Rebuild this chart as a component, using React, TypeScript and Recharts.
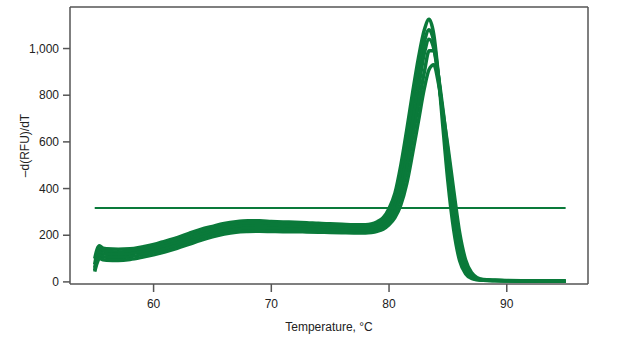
import * as React from "react";
import {
  LineChart,
  Line,
  XAxis,
  YAxis,
  ReferenceLine,
} from "recharts";

// Temperature points (°C) the melt curves were read at
const temps = [
  55, 55.2, 55.4, 55.7, 56, 57, 58, 59, 60, 61, 62, 63, 64, 65, 66, 67, 68, 69,
  70, 71, 72, 73, 74, 75, 76, 77, 78, 78.5, 79, 79.5, 80, 80.5, 81, 81.5, 82,
  82.5, 83, 83.4, 83.8, 84.2, 84.6, 85, 85.5, 86, 86.5, 87, 87.5, 88, 89, 90,
  92, 95,
];

// Five representative wells, upper edge of the bundle to lower edge
const well1 = [
  100, 140, 155, 145, 142, 140, 142, 150, 160, 175, 190, 208, 225, 238, 250,
  258, 262, 262, 259, 257, 256, 254, 251, 249, 247, 245, 245, 248, 258, 275,
  315, 380, 500, 650, 810, 960, 1080, 1125, 1060, 880, 650, 430, 220, 90, 35,
  15, 9, 7, 6, 6, 5, 4,
];
const well2 = [
  75, 125, 140, 132, 130, 128, 131, 139, 150, 164, 178, 196, 213, 227, 239, 247,
  251, 251, 249, 247, 246, 244, 242, 240, 238, 236, 236, 239, 247, 262, 295,
  350, 450, 590, 750, 900, 1030, 1080, 1030, 880, 700, 500, 290, 125, 50, 20,
  10, 7, 6, 5, 5, 4,
];
const well3 = [
  60, 110, 128, 120, 118, 116, 120, 128, 139, 152, 167, 184, 201, 216, 228, 236,
  240, 241, 239, 238, 236, 235, 233, 231, 229, 227, 227, 230, 237, 250, 278,
  325, 410, 530, 680, 830, 980, 1040, 1000, 870, 700, 520, 320, 150, 60, 25, 12,
  8, 6, 5, 4, 3,
];
const well4 = [
  50, 95, 115, 108, 106, 104, 108, 117, 128, 141, 156, 173, 190, 205, 217, 225,
  229, 230, 229, 228, 227, 226, 224, 222, 220, 218, 218, 220, 226, 238, 262,
  300, 370, 480, 620, 760, 900, 990, 990, 880, 730, 560, 360, 180, 75, 30, 14,
  9, 6, 5, 4, 3,
];
const well5 = [
  44, 80, 100, 95, 93, 92, 96, 105, 116, 129, 144, 161, 178, 193, 205, 213, 216,
  217, 216, 215, 215, 214, 213, 212, 211, 210, 210, 212, 217, 226, 245, 275,
  330, 420, 550, 690, 830, 910, 930, 850, 720, 580, 390, 210, 95, 40, 18, 10, 7,
  5, 4, 3,
];

const THRESHOLD = 317;
const X_DOMAIN = [52.9, 96.9];
const Y_DOMAIN = [-9, 1178];
const xTicks = [60, 70, 80, 90];
const yTicks = [0, 200, 400, 600, 800, 1000];

const wells = [well1, well2, well3, well4, well5];
const GREEN = "#0a7a3a";
const FRAME = "#555";

const data = temps.map((t, i) => {
  const row: Record<string, number> = { t };
  wells.forEach((w, k) => {
    row[`w${k}`] = w[i];
  });
  return row;
});

export default function App() {
  return (
    <div style={{ position: "absolute", left: 0, top: 0, background: "#fff" }}>
      <LineChart
        width={631}
        height={338}
        data={data}
        margin={{ top: 7, right: 43, bottom: 0, left: 0 }}
        style={{ fontFamily: "'Liberation Sans', Arial, sans-serif" }}
      >
        <XAxis
          dataKey="t"
          type="number"
          domain={X_DOMAIN}
          ticks={xTicks}
          allowDataOverflow
          height={54}
          tickSize={8}
          tickMargin={7}
          stroke={FRAME}
          strokeWidth={1.5}
          tick={{ fontSize: 12, fill: "#222" }}
          label={{
            value: "Temperature, °C",
            position: "insideBottom",
            offset: 7,
            fontSize: 12,
            fill: "#222",
          }}
        />
        <YAxis
          type="number"
          domain={Y_DOMAIN}
          ticks={yTicks}
          allowDataOverflow
          width={70}
          tickSize={7}
          tickMargin={4}
          stroke={FRAME}
          strokeWidth={1.5}
          tickFormatter={(v: number) => v.toLocaleString("en-US")}
          tick={{ fontSize: 12, fill: "#222" }}
          label={{
            value: "–d(RFU)/dT",
            angle: -90,
            position: "insideLeft",
            offset: 25,
            fontSize: 12,
            fill: "#222",
            style: { textAnchor: "middle" },
          }}
        />

        {/* top and right sides of the plot box */}
        <ReferenceLine y={Y_DOMAIN[1]} stroke={FRAME} strokeWidth={1.5} />
        <ReferenceLine x={X_DOMAIN[1]} stroke={FRAME} strokeWidth={1.5} />

        {wells.map((_, k) => (
          <Line
            key={k}
            dataKey={`w${k}`}
            type="monotone"
            stroke={GREEN}
            strokeWidth={3.5}
            dot={false}
            isAnimationActive={false}
          />
        ))}

        {/* threshold line */}
        <ReferenceLine
          segment={[
            { x: temps[0], y: THRESHOLD },
            { x: temps[temps.length - 1], y: THRESHOLD },
          ]}
          stroke={GREEN}
          strokeWidth={2}
        />
      </LineChart>
    </div>
  );
}
